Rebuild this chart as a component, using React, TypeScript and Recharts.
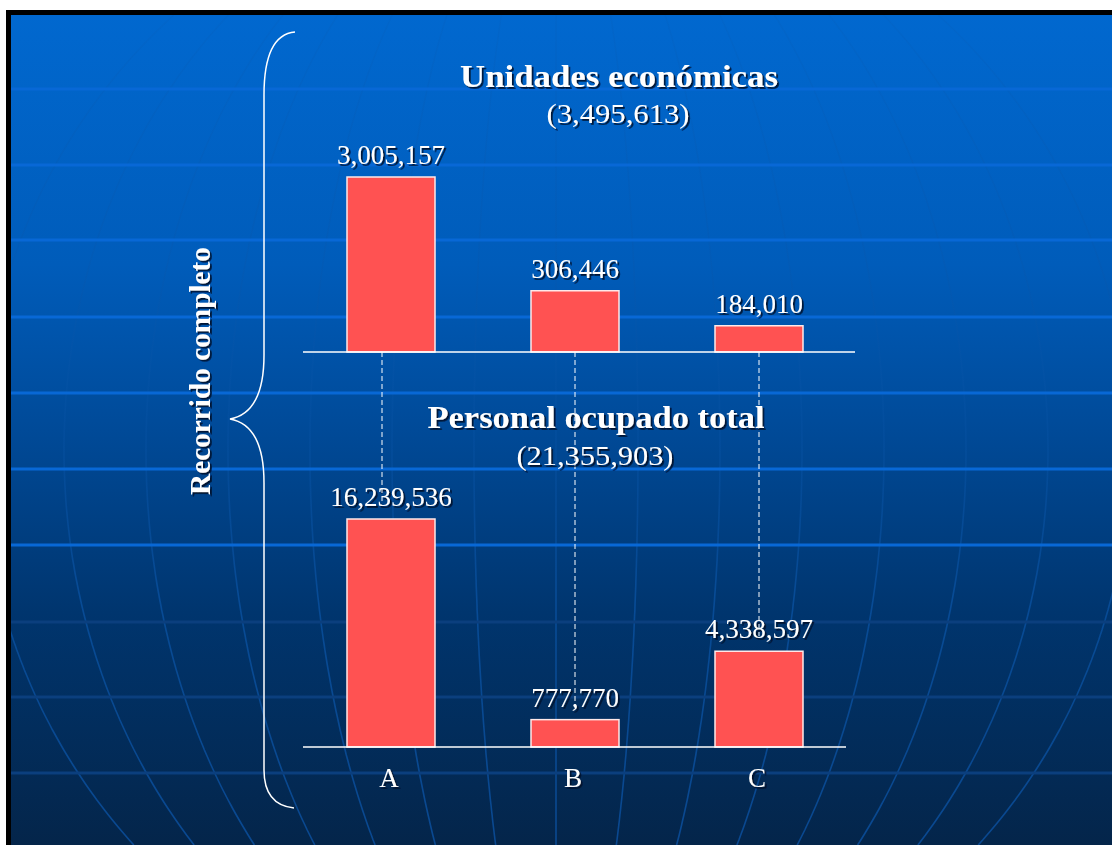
import React from 'react';
import { BarChart, Bar, XAxis, YAxis } from 'recharts';

// ---------- data ----------
const categories = ['A', 'B', 'C'];
const unidadesValues = [3005157, 306446, 184010];
const personalValues = [16239536, 777770, 4338597];
// drawn bar lengths (relative to the tallest bar of each panel; the slide is not to scale)
const unidadesBarHeights = [100, 35, 15];
const personalBarHeights = [100, 12, 42];
const unidadesTotal = 3495613;
const personalTotal = 21355903;
const unidadesTitle = 'Unidades económicas';
const personalTitle = 'Personal ocupado total';
const sideLabel = 'Recorrido completo';

const unidadesData = categories.map((c, i) => ({ cat: c, height: unidadesBarHeights[i], value: unidadesValues[i] }));
const personalData = categories.map((c, i) => ({ cat: c, height: personalBarHeights[i], value: personalValues[i] }));

// ---------- style ----------
const W = 1112;
const H = 845;
const FONT = '"Liberation Serif", "Times New Roman", serif';
const BAR_FILL = '#FF5252';
const CONNECTOR_DX = [-9, 0, 0];
const CONNECTOR_END_Y = [503, 708, 636];
const LABEL_GAP = 13;

const fmt = (n: number) => n.toLocaleString('en-US');

const makeShape = (withConnectors: boolean) => (props: any) => {
  const { x, y, width, height, index, payload } = props;
  const cx = x + width / 2;
  return (
    <g>
      <rect x={x} y={y} width={width} height={height} fill={BAR_FILL} stroke="#FFE9E9" strokeWidth={1.5} />
      <text
        x={cx}
        y={y - LABEL_GAP}
        textAnchor="middle"
        fontFamily={FONT}
        fontSize={27}
        fill="#FFFFFF"
        filter="url(#txtShadow)"
      >
        {fmt(payload.value)}
      </text>
      {withConnectors && (
        <line
          x1={cx + CONNECTOR_DX[index]}
          x2={cx + CONNECTOR_DX[index]}
          y1={y + height}
          y2={CONNECTOR_END_Y[index]}
          stroke="#FFFFFF"
          strokeWidth={1}
          strokeDasharray="5 3"
        />
      )}
    </g>
  );
};

const CategoryTick = (props: any) => {
  const { x, y, payload } = props;
  return (
    <text x={x - 2} y={y + 40} textAnchor="middle" fontFamily={FONT} fontSize={27} fill="#FFFFFF" filter="url(#txtShadow)">
      {payload.value}
    </text>
  );
};

const gridYs = [89, 165, 240, 317, 393, 469, 545, 622, 697, 773];

function meridianPath(a: number): string {
  const pts: string[] = [];
  for (let y = 15; y <= 845; y += 5) {
    const t = (y - 450) / 583;
    const f = Math.sqrt(Math.max(0, 1 - t * t));
    pts.push(`${(556 + a * f).toFixed(1)},${y}`);
  }
  return 'M' + pts.join(' L');
}

const meridianOffsets = [-574, -492, -410, -328, -246, -164, -82, 0, 82, 164, 246, 328, 410, 492, 574];

const Background = () => (
  <svg width={W} height={H} style={{ position: 'absolute', left: 0, top: 0 }}>
    <defs>
      <linearGradient id="bgGrad" x1="0" y1="0" x2="0" y2="1">
        <stop offset="0" stopColor="#0168CF" />
        <stop offset="0.3" stopColor="#005CBA" />
        <stop offset="0.5" stopColor="#004A98" />
        <stop offset="0.72" stopColor="#00356E" />
        <stop offset="1" stopColor="#04254A" />
      </linearGradient>
      <linearGradient id="meridGrad" gradientUnits="userSpaceOnUse" x1="0" y1="15" x2="0" y2="845">
        <stop offset="0" stopColor="#0A55A8" stopOpacity="0.12" />
        <stop offset="0.5" stopColor="#0A55A8" stopOpacity="0.3" />
        <stop offset="0.7" stopColor="#0A52A2" stopOpacity="0.75" />
        <stop offset="1" stopColor="#0A4C98" stopOpacity="0.9" />
      </linearGradient>
      <clipPath id="panelClip">
        <rect x={11} y={15} width={W - 11} height={H - 15} />
      </clipPath>
      <filter id="txtShadow" x="-10%" y="-30%" width="130%" height="170%">
        <feDropShadow dx="1.8" dy="1.8" stdDeviation="0.6" floodColor="#001028" floodOpacity="0.9" />
      </filter>
    </defs>
    <rect x={0} y={0} width={W} height={H} fill="#FFFFFF" />
    <rect x={6} y={10} width={W - 6} height={H - 10} fill="#000000" />
    <rect x={11} y={15} width={W - 11} height={H - 15} fill="url(#bgGrad)" />
    <g clipPath="url(#panelClip)">
      {meridianOffsets.map((a) => (
        <path key={a} d={meridianPath(a)} fill="none" stroke="url(#meridGrad)" strokeWidth={1.6} />
      ))}
      {gridYs.map((y) => (
        <line key={y} x1={11} x2={W} y1={y} y2={y} stroke={y < 600 ? '#0868D6' : '#0B3F7E'} strokeWidth={3} />
      ))}
    </g>
  </svg>
);

const Overlay = () => (
  <svg width={W} height={H} style={{ position: 'absolute', left: 0, top: 0, pointerEvents: 'none' }}>
    <g fontFamily={FONT} fill="#FFFFFF" filter="url(#txtShadow)">
      <text x={619} y={87} textAnchor="middle" fontSize={32} fontWeight="bold" textLength={318} lengthAdjust="spacingAndGlyphs">
        {unidadesTitle}
      </text>
      <text x={618} y={123} textAnchor="middle" fontSize={28} textLength={143} lengthAdjust="spacingAndGlyphs">
        {`(${fmt(unidadesTotal)})`}
      </text>
      <text x={596} y={428} textAnchor="middle" fontSize={32} fontWeight="bold" textLength={337} lengthAdjust="spacingAndGlyphs">
        {personalTitle}
      </text>
      <text x={595} y={465} textAnchor="middle" fontSize={28} textLength={157} lengthAdjust="spacingAndGlyphs">
        {`(${fmt(personalTotal)})`}
      </text>
      <text
        x={210}
        y={371}
        transform="rotate(-90 210 371)"
        textAnchor="middle"
        fontSize={30}
        fontWeight="bold"
        textLength={248}
        lengthAdjust="spacingAndGlyphs"
      >
        {sideLabel}
      </text>
    </g>
    <path
      d="M295,32 C272,34 264,60 264,95 L264,355 C264,395 252,415 230,419 C252,423 264,443 264,483 L264,770 C264,795 275,806 294,808"
      fill="none"
      stroke="#FFFFFF"
      strokeWidth={1.5}
    />
  </svg>
);

export default function App() {
  return (
    <div style={{ position: 'absolute', left: 0, top: 0, width: W, height: H, overflow: 'hidden' }}>
      <Background />
      <div style={{ position: 'absolute', left: 0, top: 0 }}>
        <BarChart width={W} height={H} data={personalData} margin={{ top: 519, right: 266, bottom: 48, left: 303 }}>
          <YAxis hide domain={[0, 100]} />
          <XAxis
            dataKey="cat"
            height={50}
            tickLine={false}
            tickSize={0}
            tickMargin={0}
            axisLine={{ stroke: '#FFFFFF', strokeWidth: 1.5 }}
            tick={<CategoryTick />}
            padding={{ left: -4, right: -5 }}
            interval={0}
          />
          <Bar dataKey="height" barSize={88} isAnimationActive={false} shape={makeShape(false)} />
        </BarChart>
      </div>
      <div style={{ position: 'absolute', left: 0, top: 0 }}>
        <BarChart width={W} height={H} data={unidadesData} margin={{ top: 177, right: 257, bottom: 463, left: 303 }}>
          <YAxis hide domain={[0, 100]} />
          <XAxis
            dataKey="cat"
            height={30}
            tick={false}
            tickLine={false}
            axisLine={{ stroke: '#FFFFFF', strokeWidth: 1.5 }}
            padding={{ left: -4, right: 4 }}
          />
          <Bar dataKey="height" barSize={88} isAnimationActive={false} shape={makeShape(true)} />
        </BarChart>
      </div>
      <Overlay />
    </div>
  );
}
